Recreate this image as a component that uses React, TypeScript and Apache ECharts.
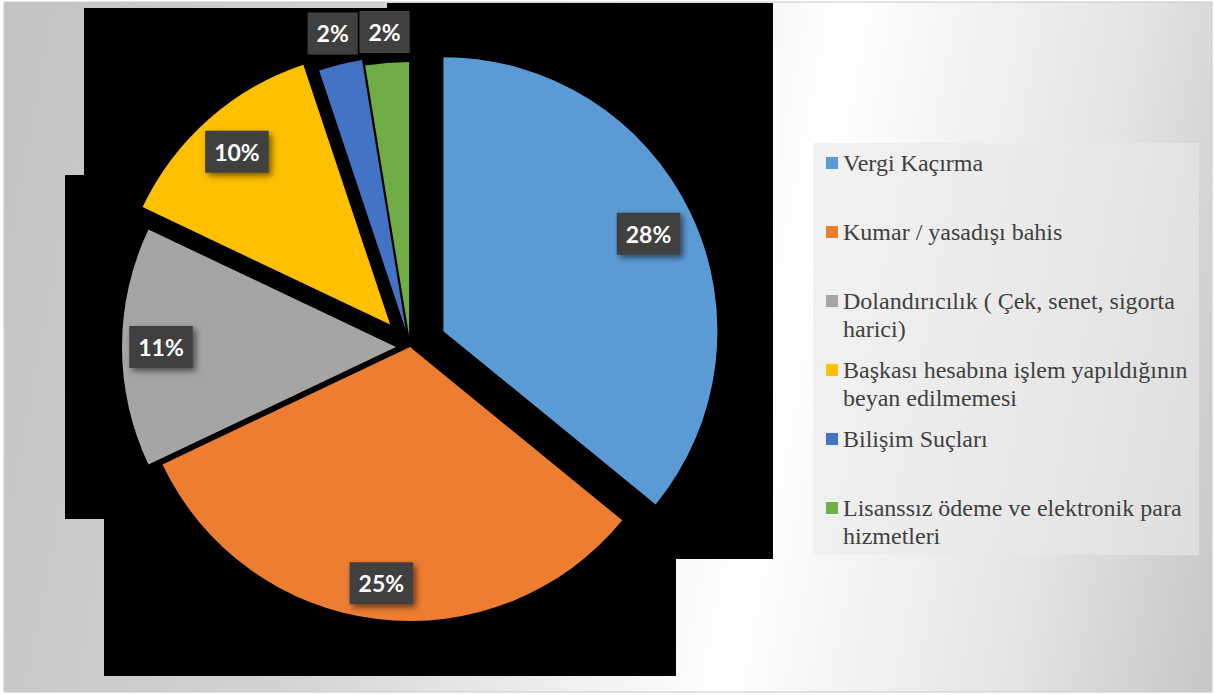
import React, { useEffect, useRef } from 'react';
import * as echarts from 'echarts';

const categories = [
  'Vergi Kaçırma',
  'Kumar / yasadışı bahis',
  'Dolandırıcılık ( Çek, senet, sigorta harici)',
  'Başkası hesabına işlem yapıldığının beyan edilmemesi',
  'Bilişim Suçları',
  'Lisanssız ödeme ve elektronik para hizmetleri',
];
// legend entries as they wrap in the reference
const legendLabels = [
  'Vergi Kaçırma',
  'Kumar / yasadışı bahis',
  'Dolandırıcılık ( Çek, senet, sigorta\nharici)',
  'Başkası hesabına işlem yapıldığının\nbeyan edilmemesi',
  'Bilişim Suçları',
  'Lisanssız ödeme ve elektronik para\nhizmetleri',
];
const values = [28, 25, 11, 10, 2, 2];
const colors = ['#5B9BD5', '#ED7D31', '#A5A5A5', '#FFC000', '#4472C4', '#70AD47'];
// per-slice explosion (px) and label distance from the pie centre (px)
const explode = [37, 0, 14, 30, 17, 11];
const labelDist = [261, 235, 246, 258, 320, 313];

const CENTER = [410, 347];
const RADIUS = 274;

const LEGEND_X = 826;
const LEGEND_TOP = 163;
const LEGEND_STEP = 69;

const labelStyle = {
  show: true,
  position: 'inside',
  formatter: '{c}%',
  color: '#ffffff',
  fontFamily: 'Lato',
  fontWeight: 'bold',
  fontSize: 23,
  lineHeight: 24,
  backgroundColor: '#404040',
  padding: [9, 9, 9, 9],
  shadowColor: 'rgba(0,0,0,0.55)',
  shadowBlur: 6,
  shadowOffsetX: 3,
  shadowOffsetY: 3,
};

export default function App() {
  const ref = useRef<HTMLDivElement>(null);
  useEffect(() => {
    if (!ref.current) return;
    const chart = echarts.init(ref.current, undefined, { renderer: 'svg' });

    const sliceSeries = values.map((_, i) => ({
      type: 'pie',
      name: 'slice' + i,
      center: CENTER,
      radius: [0, RADIUS],
      startAngle: 90,
      clockwise: true,
      selectedMode: 'multiple',
      selectedOffset: explode[i],
      silent: true,
      z: 2,
      label: { show: false },
      labelLine: { show: false },
      emphasis: { disabled: true },
      select: { itemStyle: { borderWidth: 0 } },
      data: categories.map((name, j) => ({
        name,
        value: values[j],
        selected: j === i,
        itemStyle: { color: j === i ? colors[j] : 'rgba(0,0,0,0)' },
      })),
    }));

    const labelSeries = values.map((_, i) => ({
      type: 'pie',
      name: 'label' + i,
      center: CENTER,
      radius: [labelDist[i] - 30, labelDist[i] + 30],
      startAngle: 90,
      clockwise: true,
      silent: true,
      z: 5,
      itemStyle: { color: 'rgba(0,0,0,0)' },
      labelLine: { show: false },
      emphasis: { disabled: true },
      label: labelStyle,
      data: categories.map((name, j) => ({
        name,
        value: values[j],
        label: { show: j === i },
      })),
    }));

    const legendElements: any[] = [];
    legendLabels.forEach((text, i) => {
      const cy = LEGEND_TOP + i * LEGEND_STEP;
      legendElements.push({
        type: 'rect',
        z: 20,
        shape: { x: LEGEND_X, y: cy - 6, width: 12, height: 12 },
        style: { fill: colors[i] },
      });
      legendElements.push({
        type: 'text',
        z: 20,
        x: LEGEND_X + 17,
        y: cy - 14,
        style: {
          text,
          fontFamily: '"Liberation Serif", "Times New Roman", serif',
          fontSize: 24,
          fill: '#404040',
          lineHeight: 28,
          verticalAlign: 'top',
          align: 'left',
        },
      });
    });

    chart.setOption({
      animation: false,
      backgroundColor: '#ffffff',
      graphic: [
        {
          type: 'rect',
          z: -10,
          shape: { x: 4, y: 2, width: 1208, height: 690 },
          style: {
            fill: {
              type: 'linear',
              global: true,
              x: -31,
              y: 191,
              x2: 1261,
              y2: 434,
              colorStops: [
                { offset: 0, color: '#c3c3c3' },
                { offset: 0.3, color: '#d3d3d3' },
                { offset: 0.632, color: '#ffffff' },
                { offset: 0.85, color: '#e4e4e4' },
                { offset: 1, color: '#c6c6c6' },
              ],
            },
            stroke: '#c8c8c8',
            lineWidth: 1,
          },
        },
        {
          type: 'polygon',
          z: -5,
          shape: {
            points: [
              [84, 8], [387, 8], [387, 3], [773, 3], [773, 559], [676, 559],
              [676, 676], [104, 676], [104, 519], [65, 519], [65, 175], [84, 175],
            ],
          },
          style: { fill: '#000000' },
        },
        {
          type: 'rect',
          z: 15,
          shape: { x: 813, y: 143, width: 386, height: 412 },
          style: { fill: 'rgba(234,234,234,0.6)' },
        },
        ...legendElements,
      ],
      series: [...sliceSeries, ...labelSeries],
    });
    return () => chart.dispose();
  }, []);
  return (
    <div
      ref={ref}
      style={{ position: 'fixed', left: 0, top: 0, width: 1215, height: 695 }}
    />
  );
}
